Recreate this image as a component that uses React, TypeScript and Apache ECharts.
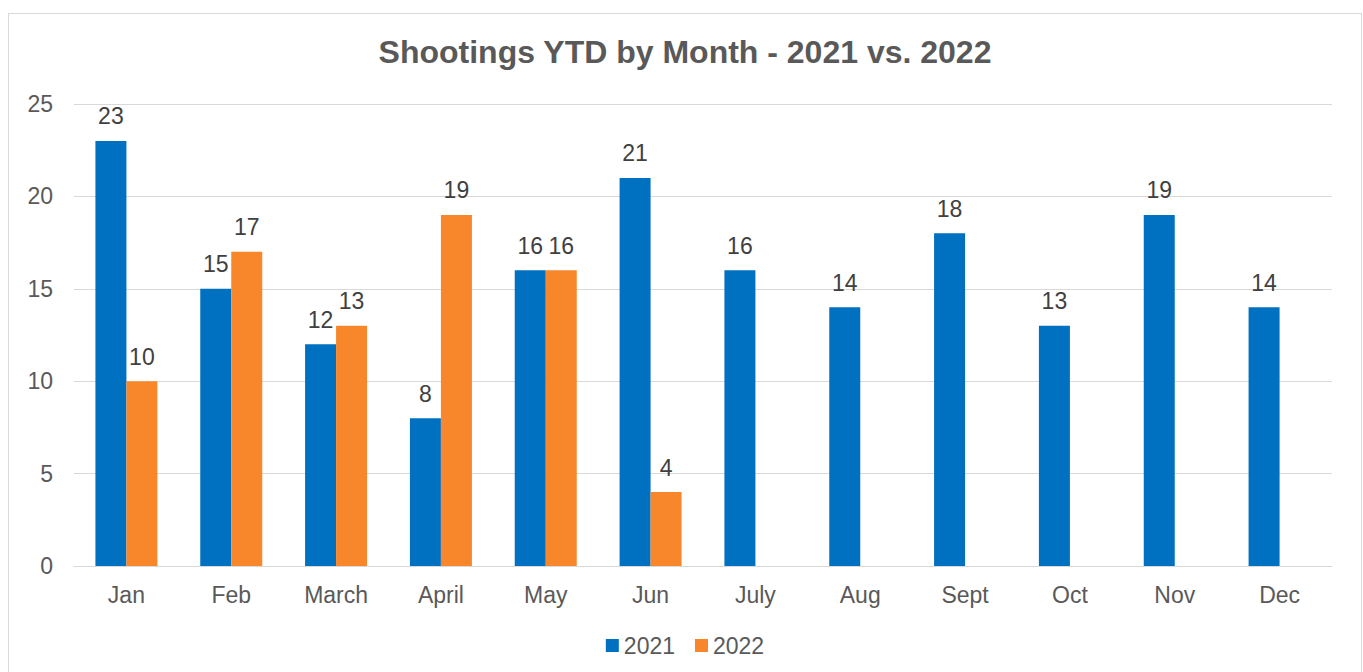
import React, { useEffect, useRef } from "react";
import * as echarts from "echarts";

const months = ["Jan", "Feb", "March", "April", "May", "Jun", "July", "Aug", "Sept", "Oct", "Nov", "Dec"];
const values2021 = [23, 15, 12, 8, 16, 21, 16, 14, 18, 13, 19, 14];
const values2022: (number | null)[] = [10, 17, 13, 19, 16, 4, null, null, null, null, null, null];
const yTicks = { min: 0, max: 25, interval: 5 };

export default function App() {
  const ref = useRef<HTMLDivElement>(null);
  useEffect(() => {
    if (!ref.current) return;
    const chart = echarts.init(ref.current, undefined, { renderer: "svg" });
    const font = "'Liberation Sans', Arial, sans-serif";
    chart.setOption({
      animation: false,
      textStyle: { fontFamily: font },
      title: {
        text: "Shootings YTD by Month - 2021 vs. 2022",
        left: "center",
        top: 17,
        textStyle: { fontFamily: font, fontSize: 32, fontWeight: "bold", color: "#595959" },
      },
      legend: {
        bottom: 20,
        left: "center",
        itemWidth: 13,
        itemHeight: 13,
        itemGap: 20,
        icon: "rect",
        textStyle: { fontFamily: font, fontSize: 23, color: "#595959" },
        data: ["2021", "2022"],
      },
      grid: { left: 65, right: 29, top: 90, bottom: 116, containLabel: false },
      xAxis: {
        type: "category",
        data: months,
        axisLine: { lineStyle: { color: "#d9d9d9", width: 1 } },
        axisTick: { show: false },
        axisLabel: { fontFamily: font, fontSize: 23, color: "#595959", margin: 17 },
      },
      yAxis: {
        type: "value",
        min: yTicks.min,
        max: yTicks.max,
        interval: yTicks.interval,
        axisLine: { show: false },
        axisTick: { show: false },
        splitLine: { lineStyle: { color: "#d9d9d9", width: 1 } },
        axisLabel: { fontFamily: font, fontSize: 23, color: "#595959", margin: 21 },
      },
      series: [
        {
          name: "2021",
          type: "bar",
          data: values2021,
          barWidth: 31,
          barGap: "0%",
          itemStyle: { color: "#0070C0" },
          label: { show: true, position: "top", distance: 13, fontFamily: font, fontSize: 23, color: "#404040" },
        },
        {
          name: "2022",
          type: "bar",
          data: values2022,
          barWidth: 31,
          barGap: "0%",
          itemStyle: { color: "#F7872A" },
          label: { show: true, position: "top", distance: 13, fontFamily: font, fontSize: 23, color: "#404040" },
        },
      ],
    });
    return () => chart.dispose();
  }, []);
  return (
    <div
      style={{
        position: "fixed",
        left: 8,
        top: 13,
        width: 1352,
        height: 668,
        border: "1px solid #d9d9d9",
        background: "#fff",
      }}
    >
      <div ref={ref} style={{ width: 1352, height: 668 }} />
    </div>
  );
}
